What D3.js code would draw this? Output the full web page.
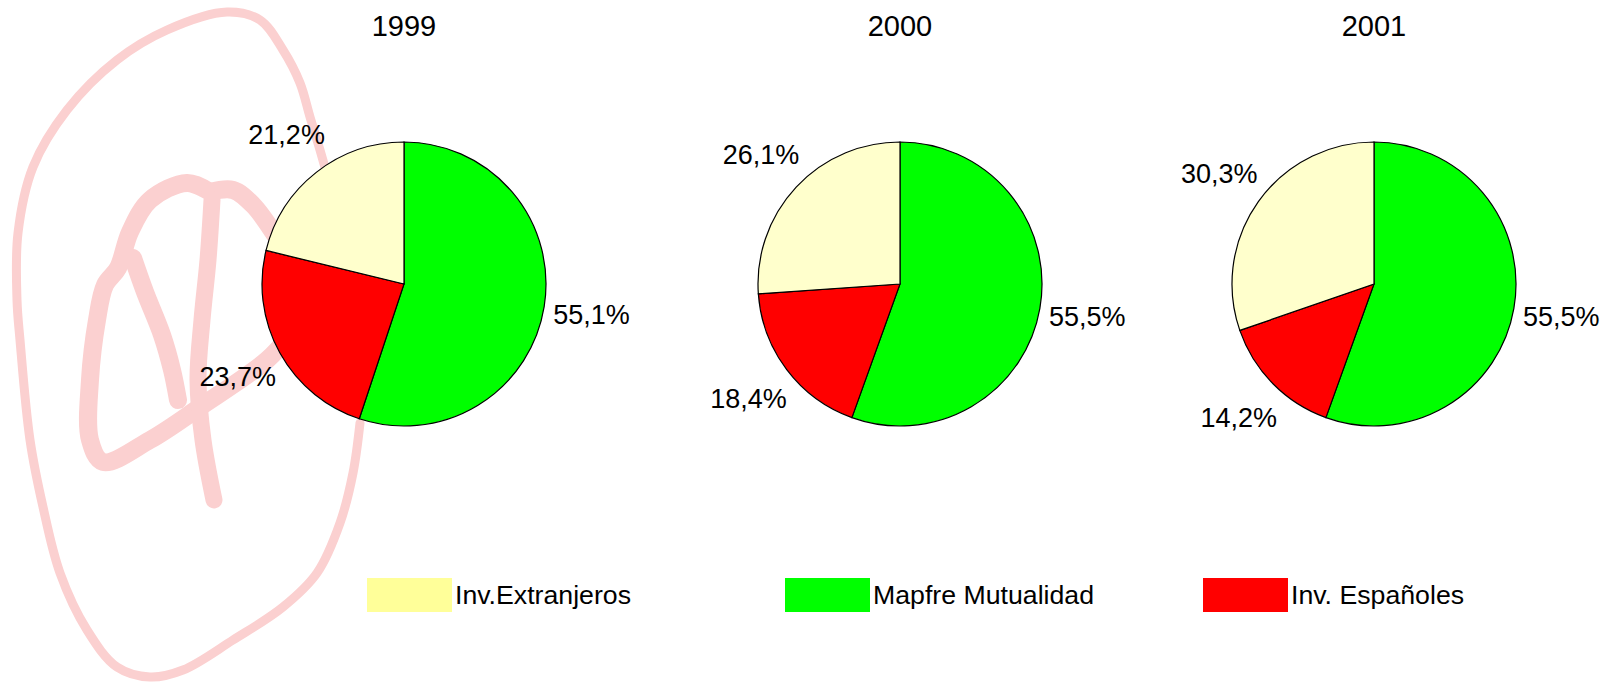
<!DOCTYPE html>
<html>
<head>
<meta charset="utf-8">
<script src="https://cdn.jsdelivr.net/npm/d3@7"></script>
<style>
  html, body { margin: 0; padding: 0; background: #fff; }
  svg { display: block; }
</style>
</head>
<body>
<div id="vis"></div>
<script>
// data
const years = ["1999", "2000", "2001"]
const categories = ["Mapfre Mutualidad", "Inv. Españoles", "Inv.Extranjeros"]
const mapfre = [55.1, 55.5, 55.5]
const espanoles = [23.7, 18.4, 14.2]
const extranjeros = [21.2, 26.1, 30.3]
const legendOrder = ["Inv.Extranjeros", "Mapfre Mutualidad", "Inv. Españoles"]

const width = 1612
const height = 687

const pieFill = {
  "Mapfre Mutualidad": "#00ff00",
  "Inv. Españoles": "#ff0000",
  "Inv.Extranjeros": "#ffffcc"
}
const legendFill = {
  "Mapfre Mutualidad": "#00ff00",
  "Inv. Españoles": "#ff0000",
  "Inv.Extranjeros": "#ffff99"
}

const fmt = v => d3.format(".1f")(v).replace(".", ",") + "%"

const svg = d3.select("#vis").append("svg")
  .attr("width", width)
  .attr("height", height)
  .attr("viewBox", [0, 0, width, height])
  .attr("font-family", "'Liberation Sans', Arial, Helvetica, sans-serif")

// faint stamp behind the first pie
const wm = svg.append("g")
  .attr("fill", "none")
  .attr("stroke", "#fbd0d0")
  .attr("stroke-linecap", "round")
  .attr("stroke-linejoin", "round")
const line = d3.line().curve(d3.curveCatmullRom.alpha(0.5))
// outer loop
wm.append("path")
  .attr("stroke-width", 9)
  .attr("d", line([[360, 423], [353, 473], [340, 523], [317, 573], [283, 607], [233, 640], [183, 670], [150, 677], [117, 667], [87, 630], [60, 573], [43, 507], [30, 440], [20, 340], [17, 300], [18, 233], [33, 167], [67, 110], [117, 60], [167, 30], [227, 12], [260, 20], [283, 50], [300, 83], [310, 117], [320, 150], [330, 185]]))
// left part of the symbol
wm.append("path")
  .attr("stroke-width", 18)
  .attr("d", line([[290, 335], [267, 360], [200, 407], [150, 440], [103, 462], [90, 440], [90, 380], [97, 320], [105, 285], [118, 268], [130, 232], [150, 200], [187, 183], [210, 192]]))
wm.append("path")
  .attr("stroke-width", 18)
  .attr("d", line([[210, 192], [233, 190], [253, 205], [275, 235]]))
// inner diagonal
wm.append("path")
  .attr("stroke-width", 18)
  .attr("d", line([[133, 258], [145, 292], [162, 335], [172, 370], [178, 400]]))
// stem
wm.append("path")
  .attr("stroke-width", 17)
  .attr("d", line([[212, 200], [208, 260], [202, 320], [198, 380], [203, 440], [214, 500]]))

// pies
const centers = [404, 900, 1374]
const cy = 284
const radius = 142
const labelRadius = 190

const pie = d3.pie().sort(null).value(d => d.value)
const arc = d3.arc().innerRadius(0).outerRadius(radius)
const labelArc = d3.arc().innerRadius(labelRadius).outerRadius(labelRadius)

years.forEach((year, i) => {
  const slices = [
    { name: categories[0], value: mapfre[i] },
    { name: categories[1], value: espanoles[i] },
    { name: categories[2], value: extranjeros[i] }
  ]
  const g = svg.append("g").attr("transform", `translate(${centers[i]},${cy})`)

  g.selectAll("path")
    .data(pie(slices))
    .join("path")
    .attr("d", arc)
    .attr("fill", d => pieFill[d.data.name])
    .attr("stroke", "#000")
    .attr("stroke-width", 1.2)

  g.selectAll("text.lbl")
    .data(pie(slices))
    .join("text")
    .attr("class", "lbl")
    .attr("transform", d => `translate(${labelArc.centroid(d)})`)
    .attr("text-anchor", "middle")
    .attr("dy", "0.35em")
    .attr("font-size", 27)
    .attr("fill", "#000")
    .text(d => fmt(d.data.value))

  // year title
  svg.append("text")
    .attr("x", centers[i])
    .attr("y", 36)
    .attr("text-anchor", "middle")
    .attr("font-size", 29)
    .attr("fill", "#000")
    .text(year)
})

// legend
const legendX = d3.scalePoint().domain(legendOrder).range([367, 1203])
const legend = svg.append("g")
  .selectAll("g")
  .data(legendOrder)
  .join("g")
  .attr("transform", d => `translate(${legendX(d)},578)`)

legend.append("rect")
  .attr("width", 85)
  .attr("height", 34)
  .attr("fill", d => legendFill[d])

legend.append("text")
  .attr("x", 88)
  .attr("y", 17)
  .attr("dy", "0.35em")
  .attr("font-size", 26.7)
  .attr("fill", "#000")
  .text(d => d)
</script>
</body>
</html>
